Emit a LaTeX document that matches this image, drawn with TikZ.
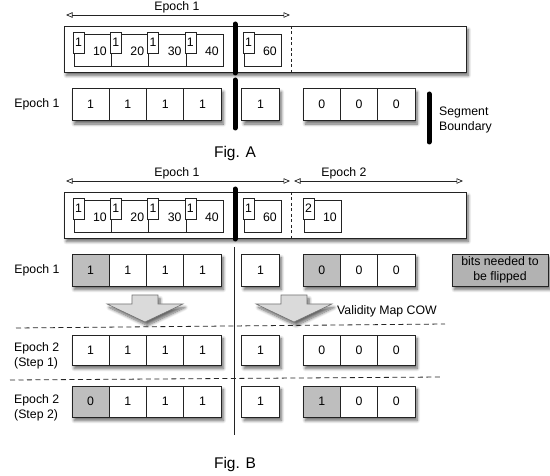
\documentclass[tikz,border=0pt]{standalone}
\usepackage{fontspec}
\setmainfont{Liberation Sans}
\usetikzlibrary{arrows.meta,shadows.blur}
\definecolor{cellgray}{RGB}{190,190,190}
\definecolor{legendgray}{RGB}{178,178,178}
\definecolor{arrowgray}{RGB}{218,218,218}
\definecolor{linecol}{RGB}{35,35,35}
\newcommand\fnt{\fontsize{12.3}{15}\selectfont}
\newcommand\bigfnt{\fontsize{15.5}{18}\selectfont}
\begin{document}
\begin{tikzpicture}[x=1pt,y=-1pt,
  shad/.style={blur shadow={shadow xshift=2.2pt,shadow yshift=-3.5pt,shadow blur steps=8,shadow blur radius=3pt,shadow opacity=60}},
  cell/.style={draw=linecol,line width=0.8pt,fill=white,minimum width=37.3pt,minimum height=32pt,inner sep=0pt,font=\fnt},
  grp/.style={fill=white,minimum height=32pt,inner sep=0pt,shad},
  seg/.style={draw=linecol,line width=0.8pt,fill=white,minimum width=402pt,minimum height=46pt,inner sep=0pt,shad},
  entry/.style={draw=linecol,line width=0.7pt,minimum width=37.3pt,minimum height=32pt,inner sep=0pt},
  tag/.style={draw=linecol,line width=0.7pt,fill=white,minimum width=11pt,minimum height=21pt,inner sep=0pt,font=\fnt},
  txt/.style={font=\fnt,inner sep=1pt},
  bar/.style={line width=5pt,line cap=round,black},
  thin/.style={line width=0.7pt,linecol},
  epoch/.style={line width=0.7pt,linecol,{Triangle[open,length=6.5pt,width=5.5pt]}-{Triangle[open,length=6.5pt,width=5.5pt]}},
  dashv/.style={line width=0.7pt,linecol,dash pattern=on 3pt off 2.5pt},
  dashh/.style={line width=0.8pt,black!85,dash pattern=on 5pt off 3.5pt},
  blockarrow/.style={draw=black!55,line width=0.6pt,fill=arrowgray,shad}
]
\useasboundingbox (0,0) rectangle (550,476);

% ================= Fig. A =================
\coordinate (eAl) at (66,15); \coordinate (eAr) at (290,15);
\draw[epoch] (eAl) -- (eAr);
\node[txt] (eAlab) at (177,7.5) {Epoch 1};

\node[seg] (segA) at (265,49) {};
\foreach \n/\l/\v in {1/74/10,2/111.3/20,3/148.6/30,4/185.9/40,5/244/60}{
  \node[entry] (entA\n) at (\l+18.65,50) {};
  \node[tag] (tagA\n) at (\l+4.5,42.5) {1};
  \node[txt] (valA\n) at (\l+26,51.5) {\v};
}
\coordinate (dAt) at (291,26); \coordinate (dAb) at (291,72);
\draw[dashv] (dAt) -- (dAb);
\coordinate (bAt) at (235,24); \coordinate (bAb) at (235,73);
\draw[bar] (bAt) -- (bAb);

% row Epoch 1 (Fig. A)
\node[txt] (rowlabA) at (37,104.5) {Epoch 1};
\node[grp,minimum width=149.2pt] (gA1) at (146.55,104.5) {};
\node[grp,minimum width=37.3pt] (gA2) at (260.5,104.5) {};
\node[grp,minimum width=111.9pt] (gA3) at (359,104.5) {};
\foreach \i/\x/\v in {1/90.6/1,2/127.9/1,3/165.2/1,4/202.5/1,5/260.5/1,6/321.7/0,7/359/0,8/396.3/0}{
  \node[cell] (A\i) at (\x,104.5) {\v};
}
\coordinate (bA2t) at (235,80); \coordinate (bA2b) at (235,128);
\draw[bar] (bA2t) -- (bA2b);

\coordinate (legt) at (429,94); \coordinate (legb) at (429,142);
\draw[bar] (legt) -- (legb);
\node[txt,align=left,anchor=west] (leglab) at (438,119.5) {Segment\\Boundary};

\node[font=\bigfnt] (figA) at (235,153) {Fig. A};

% ================= Fig. B =================
\coordinate (eB1l) at (66,181); \coordinate (eB1r) at (290,181);
\draw[epoch] (eB1l) -- (eB1r);
\node[txt] (eB1lab) at (177,173) {Epoch 1};
\coordinate (eB2l) at (294,181); \coordinate (eB2r) at (463,181);
\draw[epoch] (eB2l) -- (eB2r);
\node[txt] (eB2lab) at (344,173) {Epoch 2};

\node[seg] (segB) at (265,215) {};
\foreach \n/\l/\v/\t in {1/74/10/1,2/111.3/20/1,3/148.6/30/1,4/185.9/40/1,5/244/60/1,6/304/10/2}{
  \node[entry] (entB\n) at (\l+18.65,216) {};
  \node[tag] (tagB\n) at (\l+4.5,208.5) {\t};
  \node[txt] (valB\n) at (\l+26,217.5) {\v};
}
\coordinate (dBt) at (291,192); \coordinate (dBb) at (291,238);
\draw[dashv] (dBt) -- (dBb);
\coordinate (bBt) at (235,189); \coordinate (bBb) at (235,239);
\draw[bar] (bBt) -- (bBb);

\coordinate (vlt) at (234,247); \coordinate (vlb) at (234,435);
\draw[thin] (vlt) -- (vlb);

% row Epoch 1 (Fig. B)
\node[txt] (rowlabB) at (37,270) {Epoch 1};
\node[grp,minimum width=149.2pt] (gB1) at (146.55,270) {};
\node[grp,minimum width=37.3pt] (gB2) at (260.5,270) {};
\node[grp,minimum width=111.9pt] (gB3) at (359,270) {};
\foreach \i/\x/\v/\f in {1/90.6/1/cellgray,2/127.9/1/white,3/165.2/1/white,4/202.5/1/white,5/260.5/1/white,6/321.7/0/cellgray,7/359/0/white,8/396.3/0/white}{
  \node[cell,fill=\f] (B\i) at (\x,270) {\v};
}
\node[cell,shad,fill=legendgray,minimum width=96pt,align=center,font=\fontsize{12.3}{15.5}\selectfont] (legend) at (500,270) {bits needed to\\be flipped};

% block arrows
\foreach \c/\nm in {145/baL,294/baR}{
  \draw[blockarrow] (\c-13,295) -- (\c+13,295) -- (\c+13,304) -- (\c+38,304)
    -- (\c,322) -- (\c-38,304) -- (\c-13,304) -- cycle;
  \coordinate (\nm) at (\c,322);
}
\node[txt,anchor=west] (cow) at (336,311) {Validity Map COW};

% dashed separators
\coordinate (h1l) at (16,328); \coordinate (h1r) at (445,324);
\draw[dashh] (h1l) -- (h1r);
\coordinate (h2l) at (10,380); \coordinate (h2r) at (442,377);
\draw[dashh] (h2l) -- (h2r);

% row Epoch 2 step 1
\node[txt,align=left,anchor=west] (rowlabC) at (13,356) {Epoch 2\\(Step 1)};
\node[grp,minimum width=149.2pt,minimum height=30pt] (gC1) at (146.55,350) {};
\node[grp,minimum width=37.3pt,minimum height=30pt] (gC2) at (260.5,350) {};
\node[grp,minimum width=111.9pt,minimum height=30pt] (gC3) at (359,350) {};
\foreach \i/\x/\v in {1/90.6/1,2/127.9/1,3/165.2/1,4/202.5/1,5/260.5/1,6/321.7/0,7/359/0,8/396.3/0}{
  \node[cell,minimum height=30pt] (C\i) at (\x,350) {\v};
}
% row Epoch 2 step 2
\node[txt,align=left,anchor=west] (rowlabD) at (13,408) {Epoch 2\\(Step 2)};
\node[grp,minimum width=149.2pt,minimum height=31pt] (gD1) at (146.55,401.5) {};
\node[grp,minimum width=37.3pt,minimum height=31pt] (gD2) at (260.5,401.5) {};
\node[grp,minimum width=111.9pt,minimum height=31pt] (gD3) at (359,401.5) {};
\foreach \i/\x/\v/\f in {1/90.6/0/cellgray,2/127.9/1/white,3/165.2/1/white,4/202.5/1/white,5/260.5/1/white,6/321.7/1/cellgray,7/359/0/white,8/396.3/0/white}{
  \node[cell,fill=\f,minimum height=31pt] (D\i) at (\x,401.5) {\v};
}

\node[font=\bigfnt] (figB) at (235,464) {Fig. B};
\end{tikzpicture}
\end{document}
